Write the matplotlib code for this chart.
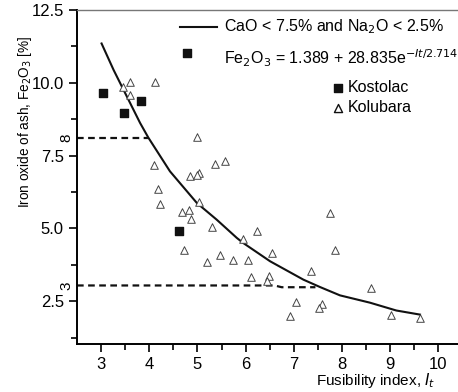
import numpy as np
import matplotlib.pyplot as plt

plt.rcParams['font.family'] = ['Liberation Sans', 'DejaVu Sans']

# Kostolac (filled squares)
kos_x = [3.03, 3.48, 3.83, 4.78, 4.62]
kos_y = [9.64, 8.96, 9.39, 11.02, 4.90]

# Kolubara (open triangles)
kol_x = [3.60, 4.12, 3.45, 3.59, 4.99, 4.09, 5.37, 5.57, 4.85, 5.03,
         5.00, 4.19, 4.22, 4.67, 4.83, 4.86, 5.03, 5.30, 6.23, 5.94,
         4.73, 5.19, 5.47, 5.73, 6.04, 6.54, 6.11, 6.49, 6.44, 7.35,
         7.76, 7.86, 7.04, 6.92, 7.59, 7.53, 8.60, 9.01, 9.62]
kol_y = [10.04, 10.04, 9.87, 9.59, 8.14, 7.16, 7.21, 7.33, 6.79, 6.90,
         6.83, 6.36, 5.85, 5.55, 5.64, 5.32, 5.89, 5.06, 4.91, 4.62,
         4.27, 3.84, 4.10, 3.93, 3.93, 4.17, 3.34, 3.38, 3.19, 3.55,
         5.54, 4.27, 2.47, 1.99, 2.42, 2.27, 2.96, 2.02, 1.94]

# fitted curve
fit_x = [3.01, 3.26, 3.81, 3.98, 4.43, 4.99, 5.40, 5.82, 5.95, 6.51,
         7.20, 7.54, 7.96, 8.58, 9.13, 9.62]
fit_y = [11.35, 10.44, 8.62, 8.12, 6.96, 5.87, 5.30, 4.67, 4.50, 3.87,
         3.24, 2.99, 2.70, 2.45, 2.18, 2.04]

# guide lines
hi_x = [2.5, 3.98]
hi_y = [8.12, 8.12]
lo_x = [2.5, 6.6, 6.75, 7.45]
lo_y = [3.04, 3.04, 2.98, 2.98]

fig = plt.figure(figsize=(4.58, 3.92), dpi=100)
ax = fig.add_axes([77/458, 1 - 344/392, 1 - 77/458, 334/392])

ax.plot(fit_x, fit_y, color='#111111', lw=1.5)
ax.plot(hi_x, hi_y, color='#111111', lw=1.6, dashes=(3, 2))
ax.plot(lo_x, lo_y, color='#111111', lw=1.6, dashes=(3, 2))
ax.scatter(kos_x, kos_y, marker='s', s=30, color='#111111', zorder=3)
ax.scatter(kol_x, kol_y, marker='^', s=30, facecolor='white',
           edgecolor='#444444', linewidths=0.7, zorder=3)

ax.set_xlim(2.5, 10.41)
ax.set_ylim(1.03, 12.5)
ax.set_xticks([3, 4, 5, 6, 7, 8, 9, 10])
ax.set_xticks(np.arange(3.5, 10.5, 1), minor=True)
ax.set_yticks([2.5, 5.0, 7.5, 10.0, 12.5])
ax.set_yticklabels(['2.5', '5.0', '7.5', '10.0', '12.5'])
ax.set_yticks([1.25, 3.75, 6.25, 8.75, 11.25], minor=True)
ax.tick_params(axis='both', which='major', length=6, width=1.2, labelsize=12)
ax.tick_params(axis='both', which='minor', length=4, width=1.2)
ax.spines['right'].set_visible(False)
ax.spines['top'].set_color('#777777')
ax.spines['top'].set_linewidth(1.0)
for s in ['left', 'bottom']:
    ax.spines[s].set_linewidth(1.4)

ax.text(2.42, 8.12, '8', rotation=90, ha='right', va='center', fontsize=11)
ax.text(2.42, 3.04, '3', rotation=90, ha='right', va='center', fontsize=11)

# legend-like annotations
ax.plot([4.64, 5.41], [11.92, 11.92], color='#111111', lw=1.5)
ax.text(5.55, 11.92, 'CaO < 7.5% and Na$_2$O < 2.5%', fontsize=11.5,
        va='center')
ax.text(5.55, 10.85, 'Fe$_2$O$_3$ = 1.389 + 28.835e$^{-It/2.714}$',
        fontsize=11.5, va='center')
ax.scatter([7.92], [9.83], marker='s', s=30, color='#111111')
ax.text(8.13, 9.83, 'Kostolac', fontsize=11.5, va='center')
ax.scatter([7.92], [9.14], marker='^', s=34, facecolor='white',
           edgecolor='#111111', linewidths=1.0)
ax.text(8.13, 9.14, 'Kolubara', fontsize=11.5, va='center')

fig.text(435/458, 1 - 381/392, 'Fusibility index, $I_t$', fontsize=11,
         ha='right', va='center')
fig.text(25/458, 1 - 122/392, 'Iron oxide of ash, Fe$_2$O$_3$ [%]',
         rotation=90, ha='center', va='center', fontsize=9.8)

fig.savefig('out.png', dpi=100)
